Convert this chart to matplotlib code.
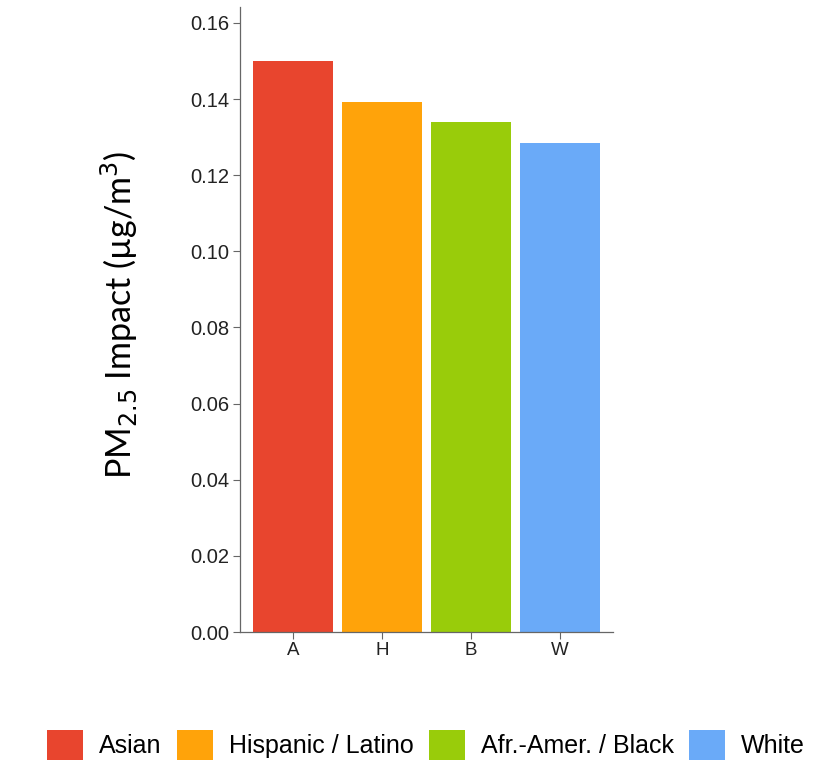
import matplotlib
matplotlib.use("Agg")
import matplotlib.pyplot as plt
from matplotlib.patches import Patch

categories = ["A", "H", "B", "W"]
values = [0.1499, 0.1392, 0.1339, 0.1284]
group_names = ["Asian", "Hispanic / Latino", "Afr.-Amer. / Black", "White"]
colors = ["#E8452E", "#FFA30A", "#99CC0A", "#6AAAF8"]
yticks = [0.00, 0.02, 0.04, 0.06, 0.08, 0.10, 0.12, 0.14, 0.16]

fig = plt.figure(figsize=(8.35, 7.75), dpi=100)
ax = fig.add_axes([240/835, 1-632/775, (613-240)/835, (632-7)/775])

x = list(range(1, len(categories)+1))
ax.bar(x, values, width=0.9, color=colors)
ax.set_xlim(0.4, 4.6)
ax.set_ylim(0, 0.1642)
ax.set_xticks(x)
ax.set_xticklabels(categories, fontsize=13.5, family="Liberation Sans", color="#222222")
ax.set_yticks(yticks)
ax.set_yticklabels([f"{t:.2f}" for t in yticks], fontsize=14.5, family="Liberation Sans", color="#222222")
for s in ["top", "right"]:
    ax.spines[s].set_visible(False)
for s in ["left", "bottom"]:
    ax.spines[s].set_color("#666666")
    ax.spines[s].set_linewidth(0.9)
ax.tick_params(axis="both", direction="out", length=5, color="#666666", width=0.8, pad=2.5)

fig.text(119/835, 1-315/775, r"PM$_{2.5}$ Impact (µg/m$^3$)", rotation=90,
         ha="center", va="center", fontsize=24.5, family="Lato",
         math_fontfamily="custom")

handles = [Patch(facecolor=c, edgecolor="none") for c in colors]
leg = fig.legend(handles, group_names, loc="center", bbox_to_anchor=(426/835, 1-745/775),
                 ncol=4, frameon=False, prop={"family": "Liberation Sans", "size": 18},
                 handlelength=1.45, handleheight=1.45, handletextpad=0.62, columnspacing=0.62)

fig.savefig("out.png", dpi=100)
